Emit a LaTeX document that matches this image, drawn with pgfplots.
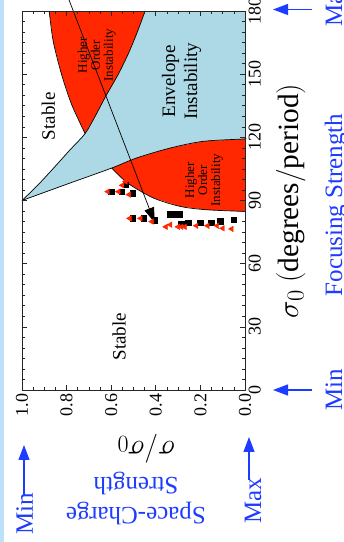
\documentclass[border=0pt]{standalone}
\usepackage{fontspec}
\setmainfont{Liberation Serif}
\usepackage{pgfplots}
\pgfplotsset{compat=1.18}
\usetikzlibrary{arrows.meta}
\definecolor{hored}{RGB}{255,40,0}
\definecolor{envblue}{RGB}{173,216,230}
\definecolor{txtblue}{RGB}{30,60,255}
\definecolor{stripblue}{RGB}{190,225,250}
\pgfplotsset{/pgf/number format/assume math mode=true}
\begin{document}
\begin{tikzpicture}
\useasboundingbox (0,0) rectangle (344pt,542pt);
\clip (0,0) rectangle (344pt,542pt);
\fill[stripblue] (0,0) rectangle (4pt,542pt);
\begin{axis}[
  at={(22pt,152pt)}, anchor=south west,
  scale only axis, width=223pt, height=379pt,
  xmin=0, xmax=1, ymin=0, ymax=180, x dir=reverse,
  clip=false, axis on top,
  xtick={0,0.2,0.4,0.6,0.8,1}, minor x tick num=3,
  ytick={0,30,60,90,120,150,180}, minor y tick num=5,
  tick align=inside, major tick length=5pt, minor tick length=3pt,
  yticklabel pos=right, xtick pos=both, ytick pos=both,
  axis line style={line width=0.8pt, black!85},
  tick style={line width=0.6pt, black!85},
  x tick label style={rotate=90, anchor=east, font=\fontsize{18}{18}\selectfont,
    /pgf/number format/.cd, fixed, fixed zerofill, precision=1},
  y tick label style={rotate=90, anchor=north, font=\fontsize{18}{18}\selectfont},
]
% envelope instability (light blue)
\addplot[fill=envblue, draw=none] coordinates {
  (1,90) (0.93,97.2) (0.86,105.2) (0.785,114) (0.717,121.8)
  (0.672,130) (0.622,140) (0.568,150) (0.522,160) (0.483,170) (0.448,180)
  (0,180) (0,119.3) (0.008,119.2) (0.187,118.1) (0.336,114.9) (0.486,110.2)
  (0.598,105.4) (0.80,97.7) (1,90)} -- cycle;
% upper higher order instability (red)
\addplot[fill=hored, draw=none] coordinates {
  (0.717,121.8) (0.777,135.5) (0.822,149.7) (0.860,165.6) (0.878,180)
  (0.448,180) (0.483,170) (0.522,160) (0.568,150) (0.622,140) (0.672,130) (0.717,121.8)} -- cycle;
% lower higher order instability (red)
\addplot[fill=hored, draw=none] coordinates {
  (0.598,105.4) (0.486,110.2) (0.336,114.9) (0.187,118.1) (0.008,119.2) (0,119.3)
  (0,84.8) (0.172,85.6) (0.291,87.2) (0.411,91.2) (0.516,97.5) (0.56,101.4) (0.598,105.4)} -- cycle;
% boundaries
\addplot[black, line width=0.7pt, smooth, tension=0.5] coordinates {
  (1,90) (0.93,97.2) (0.86,105.2) (0.785,114) (0.717,121.8)
  (0.672,130) (0.622,140) (0.568,150) (0.522,160) (0.483,170) (0.448,180)};
\addplot[black, line width=0.7pt, smooth, tension=0.5] coordinates {
  (0.717,121.8) (0.777,135.5) (0.822,149.7) (0.860,165.6) (0.878,180)};
\addplot[black, line width=0.7pt, smooth, tension=0.5] coordinates {
  (1,90) (0.80,97.7) (0.598,105.4) (0.486,110.2) (0.336,114.9) (0.187,118.1) (0.008,119.2) (0,119.3)};
\addplot[black, line width=0.7pt, smooth, tension=0.5] coordinates {
  (0.598,105.4) (0.56,101.4) (0.516,97.5) (0.411,91.2) (0.291,87.2) (0.172,85.6) (0,84.8)};
% data points
\addplot[only marks, mark=square*, mark size=2.8pt, black] coordinates {
  (0.601,94.2) (0.553,94.2) (0.504,93.4) (0.535,97.5)
  (0.503,81.5) (0.454,81.5) (0.405,80.7)
  (0.335,83.5) (0.315,83.5) (0.295,83.5)
  (0.285,79) (0.256,79.5) (0.202,79.5) (0.152,79.5) (0.11,80.2) (0.05,80.8)};
\addplot[only marks, mark=triangle*, mark size=3.2pt, hored, mark options={rotate=90, fill=hored, draw=hored}] coordinates {
  (0.615,94.2) (0.567,94.2) (0.52,92.8) (0.55,97.2) (0.535,99)
  (0.517,81.5) (0.468,81.5) (0.418,80)
  (0.355,77.5) (0.335,78.5) (0.30,77.5) (0.285,77.5) (0.27,77.5)
  (0.218,78) (0.168,78) (0.125,78) (0.10,76.8) (0.06,76.5)};
% arrow
\addplot[black, line width=0.7pt, -{Triangle[length=15pt,width=10pt]}] coordinates {(0.799,188) (0.405,79.5)};
% region labels
\node[rotate=90, font=\fontsize{19}{22}\selectfont] at (axis cs:0.882,130) {Stable};
\node[rotate=90, font=\fontsize{19}{22}\selectfont] at (axis cs:0.565,25.3) {Stable};
\node[rotate=90, align=center, font=\fontsize{19}{22}\selectfont] at (axis cs:0.284,146.6) {Envelope\\Instability};
\node[rotate=90, align=center, font=\fontsize{13}{13}\selectfont] at (axis cs:0.665,159) {Higher\\Order\\Instability};
\node[rotate=90, align=center, font=\fontsize{13}{13}\selectfont] at (axis cs:0.184,99.7) {Higher\\Order\\Instability};
\end{axis}
% axis titles
\node[rotate=90, anchor=base, scale=1.18, font=\fontsize{24.88}{25}\selectfont] at (298pt,341pt) {$\sigma_0\ (\mathrm{degrees/period})$};
\node[rotate=180, scale=1.16, font=\fontsize{24.88}{25}\selectfont] at (146pt,93pt) {$\sigma/\sigma_0$};
% blue annotations
\draw[txtblue, line width=1.2pt, -{Triangle[length=15pt,width=11pt]}] (312pt,532.5pt) -- (273pt,532.5pt);
\draw[txtblue, line width=1.2pt, -{Triangle[length=15pt,width=11pt]}] (312pt,152pt) -- (273pt,152pt);
\draw[txtblue, line width=1.2pt, -{Triangle[length=15pt,width=11pt]}] (24pt,47pt) -- (24pt,97pt);
\draw[txtblue, line width=1.2pt, -{Triangle[length=15pt,width=11pt]}] (249pt,62pt) -- (249pt,105pt);
\node[txtblue, rotate=90, anchor=base west, font=\fontsize{25}{25}\selectfont] at (342pt,512pt) {Max};
\node[txtblue, rotate=90, anchor=base, font=\fontsize{25}{25}\selectfont] at (342pt,337pt) {Focusing Strength};
\node[txtblue, rotate=90, anchor=base, font=\fontsize{25}{25}\selectfont] at (342pt,152pt) {Min};
\node[txtblue, rotate=90, anchor=base, font=\fontsize{25}{25}\selectfont] at (33pt,28pt) {Min};
\node[txtblue, rotate=90, anchor=base, font=\fontsize{25}{25}\selectfont] at (261pt,41pt) {Max};
\node[txtblue, rotate=180, align=center, font=\fontsize{25}{30}\selectfont] at (136pt,44pt) {Space-Charge\\Strength};
\end{tikzpicture}
\end{document}
